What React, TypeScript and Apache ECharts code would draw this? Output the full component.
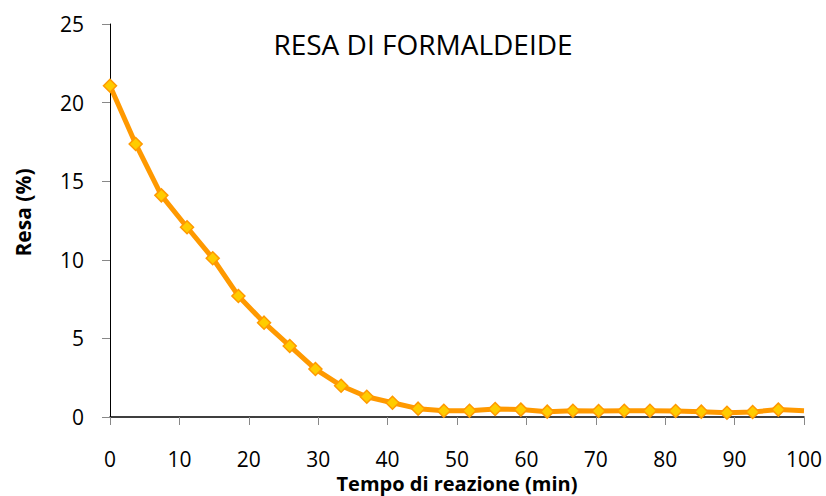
import React, { useEffect, useRef } from "react";
import * as echarts from "echarts";

const times = [0, 3.7, 7.4, 11.1, 14.8, 18.5, 22.2, 25.9, 29.6, 33.3, 37, 40.7, 44.4, 48.1, 51.8, 55.5, 59.2, 63, 66.7, 70.4, 74.1, 77.8, 81.5, 85.2, 88.9, 92.6, 96.3, 100];
const resa = [21.07, 17.37, 14.1, 12.07, 10.1, 7.7, 6.0, 4.52, 3.05, 1.99, 1.29, 0.91, 0.53, 0.4, 0.4, 0.51, 0.47, 0.34, 0.4, 0.38, 0.4, 0.4, 0.38, 0.34, 0.27, 0.32, 0.47, 0.4];
const titleText = "RESA DI FORMALDEIDE";
const xName = "Tempo di reazione (min)";
const yName = "Resa (%)";

const FONT = "Open Sans";

export default function App() {
  const ref = useRef<HTMLDivElement>(null);
  useEffect(() => {
    if (!ref.current) return;
    const chart = echarts.init(ref.current, null, { renderer: "svg" });
    const data = times.map((t, i) =>
      i === times.length - 1
        ? { value: [t, resa[i]], symbol: "none" }
        : { value: [t, resa[i]] }
    );
    chart.setOption({
      animation: false,
      backgroundColor: "#ffffff",
      title: {
        text: titleText,
        left: 418,
        top: 25,
        textAlign: "center",
        textStyle: { fontFamily: FONT, fontSize: 28, fontWeight: "normal", color: "#000" },
      },
      grid: { left: 110, right: 22, top: 24, bottom: 79, outerBoundsMode: "none", containLabel: false },
      xAxis: {
        type: "value",
        min: 0,
        max: 100,
        interval: 10,
        name: xName,
        nameLocation: "middle",
        nameGap: 56,
        nameMoveOverlap: false,
        nameTextStyle: { fontFamily: FONT, fontSize: 20, lineHeight: 20, fontWeight: "bold", color: "#000" },
        axisLine: { onZero: false, lineStyle: { color: "#000", width: 1.5 } },
        axisTick: { show: true, length: 8, lineStyle: { color: "#888" } },
        axisLabel: { fontFamily: FONT, fontSize: 21, lineHeight: 20, color: "#000", margin: 32 },
        splitLine: { show: false },
      },
      yAxis: {
        type: "value",
        min: 0,
        max: 25,
        interval: 5,
        name: yName,
        nameLocation: "middle",
        nameGap: 77,
        nameMoveOverlap: false,
        nameTextStyle: { fontFamily: FONT, fontSize: 21, fontWeight: "bold", color: "#000", padding: [0, 0, 0, 16] },
        axisLine: { show: true, lineStyle: { color: "#000", width: 1 } },
        axisTick: { show: true, length: 8, lineStyle: { color: "#888" } },
        axisLabel: { fontFamily: FONT, fontSize: 21, color: "#000", margin: 26 },
        splitLine: { show: false },
      },
      series: [
        {
          type: "line",
          data,
          symbol: "diamond",
          symbolSize: 13,
          showAllSymbol: true,
          clip: false,
          lineStyle: { color: "#FF9900", width: 5 },
          itemStyle: { color: "#FFCC00", borderColor: "#FF9900", borderWidth: 1.5 },
        },
      ],
    });
    return () => chart.dispose();
  }, []);
  return (
    <div
      ref={ref}
      style={{ position: "fixed", left: 0, top: 0, width: 826, height: 496 }}
    />
  );
}
